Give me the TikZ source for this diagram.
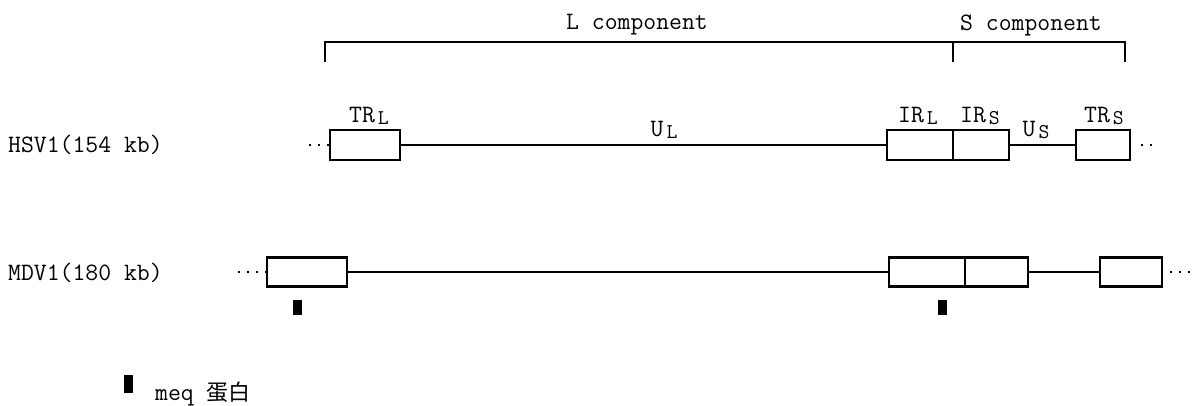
\documentclass[tikz,border=0pt]{standalone}
\usepackage{fontspec}
\newfontfamily\cjk{Noto Sans CJK SC}
\newcommand{\subl}[1]{\hspace{3pt}\raisebox{-2pt}{\fontsize{21}{23}\selectfont #1}}
\begin{document}
\begin{tikzpicture}[x=1pt,y=-1pt,
  lbl/.style={font=\fontsize{25}{28}\selectfont\ttfamily, inner sep=0pt},
  seg/.style={draw, line width=2.6pt, rectangle, inner sep=0pt},
  ln/.style={line width=2pt},
  dots/.style={line width=2.2pt, dash pattern=on 2pt off 7pt},
  meqbox/.style={fill=black, draw=none, inner sep=0pt, minimum width=9pt, minimum height=15pt}]
\useasboundingbox (0,0) rectangle (1193,406);
% brackets
\coordinate (bl) at (325,62);
\coordinate (blt) at (325,42);
\coordinate (bm) at (953,62);
\coordinate (bmt) at (953,42);
\coordinate (br) at (1125,62);
\coordinate (brt) at (1125,42);
\draw[line width=2.2pt] (bl) -- (blt) -- (brt) -- (br);
\draw[line width=2.2pt] (bmt) -- (bm);
\node[lbl] (lc) at (637,25) {L component};
\node[lbl] (sc) at (1031,25) {S component};
% HSV1 row
\node[lbl, anchor=west] (hsv) at (8,145) {HSV1(154 kb)};
\node[seg, minimum width=70pt, minimum height=30pt] (trl) at (365,145) {};
\node[seg, minimum width=66pt, minimum height=30pt] (irl) at (920,145) {};
\node[seg, minimum width=56pt, minimum height=30pt] (irs) at (981,145) {};
\node[seg, minimum width=54pt, minimum height=30pt] (trs) at (1103,145) {};
\coordinate (hl) at (309,145);
\coordinate (hr) at (1152,145);
\draw[dots] (hl) -- (trl.west);
\draw[dots] (trs.east) ++(10pt,0) -- (hr);
\draw[ln] (trl.east) -- (irl.west);
\draw[ln] (irs.east) -- (trs.west);
\node[lbl] (ltrl) at (369,116) {TR\subl{L}};
\node[lbl] (lul) at (664,130) {U\subl{L}};
\node[lbl] (lirl) at (918,116) {IR\subl{L}};
\node[lbl] (lirs) at (980,116) {IR\subl{S}};
\node[lbl] (lus) at (1036,130) {U\subl{S}};
\node[lbl] (ltrs) at (1104,116) {TR\subl{S}};
% MDV1 row
\node[lbl, anchor=west] (mdv) at (8,273) {MDV1(180 kb)};
\node[seg, minimum width=80pt, minimum height=29pt] (mtrl) at (307,272) {};
\node[seg, minimum width=76pt, minimum height=29pt] (mirl) at (927,272) {};
\node[seg, minimum width=63pt, minimum height=29pt] (mirs) at (996.5,272) {};
\node[seg, minimum width=62pt, minimum height=29pt] (mtrs) at (1131,272) {};
\coordinate (ml) at (238,272);
\coordinate (mr) at (1192,272);
\draw[dots] (ml) -- (mtrl.west);
\draw[dots] (mtrs.east) ++(7pt,0) -- (mr);
\draw[ln] (mtrl.east) -- (mirl.west);
\draw[ln] (mirs.east) -- (mtrs.west);
\node[meqbox] (m1) at (297,307.5) {};
\node[meqbox] (m2) at (942,307.5) {};
% legend
\node[meqbox, minimum height=18pt] (lm) at (128,384) {};
\node[lbl, anchor=base west] (lt) at (155,400) {meq {\cjk\fontsize{22}{24}\selectfont 蛋白}};
\end{tikzpicture}
\end{document}
